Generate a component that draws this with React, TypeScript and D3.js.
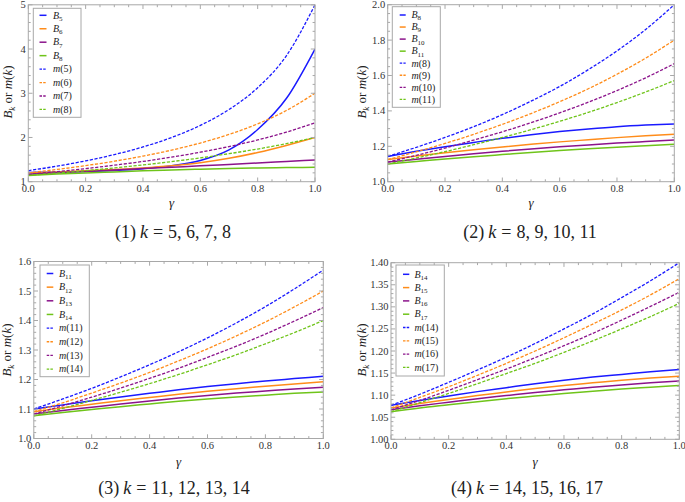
import React from "react";
import * as d3 from "d3";

// ---------- DATA ----------
const gammaValues = [0, 0.1, 0.2, 0.3, 0.4, 0.5, 0.6, 0.7, 0.8, 0.9, 1.0];

// B_k curves (solid)
const B5 = [1.21, 1.215, 1.23, 1.255, 1.295, 1.36, 1.48, 1.72, 2.18, 2.88, 4.0];
const B6 = [1.2, 1.22, 1.245, 1.275, 1.31, 1.36, 1.43, 1.53, 1.66, 1.82, 2.0];
const B7 = [1.167, 1.2, 1.232, 1.264, 1.296, 1.327, 1.358, 1.391, 1.423, 1.457, 1.49];
const B8 = [1.143, 1.172, 1.198, 1.222, 1.245, 1.265, 1.283, 1.298, 1.311, 1.32, 1.326];
const B9 = [1.125, 1.145, 1.163, 1.18, 1.196, 1.211, 1.225, 1.237, 1.249, 1.259, 1.268];
const B10 = [1.111, 1.127, 1.143, 1.158, 1.172, 1.185, 1.197, 1.208, 1.218, 1.227, 1.236];
const B11 = [1.1, 1.114, 1.128, 1.141, 1.153, 1.165, 1.176, 1.186, 1.195, 1.203, 1.211];
const B12 = [1.091, 1.104, 1.116, 1.128, 1.139, 1.15, 1.16, 1.169, 1.177, 1.185, 1.192];
const B13 = [1.083, 1.095, 1.106, 1.117, 1.127, 1.137, 1.146, 1.154, 1.161, 1.168, 1.174];
const B14 = [1.077, 1.088, 1.098, 1.108, 1.117, 1.126, 1.134, 1.141, 1.147, 1.153, 1.158];
const B15 = [1.071, 1.081, 1.09, 1.099, 1.107, 1.115, 1.122, 1.128, 1.134, 1.139, 1.143];
const B16 = [1.067, 1.076, 1.084, 1.092, 1.099, 1.106, 1.112, 1.118, 1.123, 1.128, 1.132];
const B17 = [1.0625, 1.071, 1.078, 1.085, 1.092, 1.098, 1.104, 1.109, 1.114, 1.118, 1.122];

// m(k) curves (dashed)
const M5 = [1.25, 1.351, 1.471, 1.613, 1.786, 2.0, 2.273, 2.632, 3.125, 3.846, 5.0];
const M6 = [1.2, 1.277, 1.364, 1.463, 1.579, 1.714, 1.875, 2.069, 2.308, 2.609, 3.0];
const M7 = [1.167, 1.228, 1.296, 1.373, 1.458, 1.556, 1.667, 1.795, 1.944, 2.121, 2.333];
const M8 = [1.143, 1.194, 1.25, 1.311, 1.379, 1.455, 1.538, 1.633, 1.739, 1.86, 2.0];
const M9 = [1.125, 1.169, 1.216, 1.268, 1.324, 1.385, 1.452, 1.525, 1.607, 1.698, 1.8];
const M10 = [1.111, 1.149, 1.19, 1.235, 1.282, 1.333, 1.389, 1.449, 1.515, 1.587, 1.667];
const M11 = [1.1, 1.134, 1.17, 1.209, 1.25, 1.294, 1.341, 1.392, 1.447, 1.507, 1.571];
const M12 = [1.091, 1.121, 1.154, 1.188, 1.224, 1.263, 1.304, 1.348, 1.395, 1.446, 1.5];
const M13 = [1.083, 1.111, 1.14, 1.171, 1.204, 1.238, 1.275, 1.313, 1.354, 1.398, 1.444];
const M14 = [1.077, 1.102, 1.129, 1.157, 1.186, 1.217, 1.25, 1.284, 1.321, 1.359, 1.4];
const M15 = [1.071, 1.095, 1.119, 1.145, 1.172, 1.2, 1.23, 1.261, 1.293, 1.327, 1.364];
const M16 = [1.067, 1.088, 1.111, 1.135, 1.159, 1.185, 1.212, 1.24, 1.27, 1.301, 1.333];
const M17 = [1.0625, 1.083, 1.104, 1.126, 1.149, 1.172, 1.197, 1.223, 1.25, 1.278, 1.308];

const panelKs = [
  [5, 6, 7, 8],
  [8, 9, 10, 11],
  [11, 12, 13, 14],
  [14, 15, 16, 17],
];

const xTicks = [0, 0.2, 0.4, 0.6, 0.8, 1.0];
const xTickLabels = ["0.0", "0.2", "0.4", "0.6", "0.8", "1.0"];

const yTicks1 = [1, 2, 3, 4, 5];
const yTickLabels1 = ["1", "2", "3", "4", "5"];
const yTicks2 = [1.0, 1.2, 1.4, 1.6, 1.8, 2.0];
const yTickLabels2 = ["1.0", "1.2", "1.4", "1.6", "1.8", "2.0"];
const yTicks3 = [1.0, 1.1, 1.2, 1.3, 1.4, 1.5, 1.6];
const yTickLabels3 = ["1.0", "1.1", "1.2", "1.3", "1.4", "1.5", "1.6"];
const yTicks4 = [1.0, 1.05, 1.1, 1.15, 1.2, 1.25, 1.3, 1.35, 1.4];
const yTickLabels4 = ["1.00", "1.05", "1.10", "1.15", "1.20", "1.25", "1.30", "1.35", "1.40"];

const captionNumbers = ["1", "2", "3", "4"];

// ---------- LOOKUPS / STYLE ----------
const B: Record<number, number[]> = {
  5: B5, 6: B6, 7: B7, 8: B8, 9: B9, 10: B10, 11: B11, 12: B12, 13: B13, 14: B14, 15: B15, 16: B16, 17: B17,
};
const M: Record<number, number[]> = {
  5: M5, 6: M6, 7: M7, 8: M8, 9: M9, 10: M10, 11: M11, 12: M12, 13: M13, 14: M14, 15: M15, 16: M16, 17: M17,
};

const COLORS = ["#1a1aff", "#ff8c1a", "#8b138b", "#6fc41a"];
const FRAME = "#a8a8a8";
const SERIF = "'Liberation Serif', 'Times New Roman', serif";

type Layout = {
  x0: number; x1: number; yTop: number; yBot: number;
  yTicks: number[]; yLabels: string[]; yMinor: number;
  legend: { x: number; y: number; w: number; h: number; y0: number; dy: number; lx0: number; lx1: number; tx: number };
  ylab: { x: number; y: number };
  gam: { x: number; y: number };
  cap: { x: number; y: number };
  xLabY: number;
};

const layouts: Layout[] = [
  {
    x0: 28.3, x1: 315, yTop: 4.8, yBot: 181.7,
    yTicks: yTicks1, yLabels: yTickLabels1, yMinor: 0.2,
    legend: { x: 33.3, y: 8.3, w: 47.7, h: 109, y0: 15.3, dy: 13.45, lx0: 39.5, lx1: 46.5, tx: 53 },
    ylab: { x: 8, y: 92 }, gam: { x: 171.6, y: 207 }, cap: { x: 173, y: 238 }, xLabY: 192,
  },
  {
    x0: 387.7, x1: 674.3, yTop: 4.7, yBot: 181.7,
    yTicks: yTicks2, yLabels: yTickLabels2, yMinor: 0.05,
    legend: { x: 392.3, y: 6.7, w: 48, h: 100.6, y0: 15, dy: 12.05, lx0: 399.7, lx1: 405.7, tx: 411.5 },
    ylab: { x: 362, y: 92 }, gam: { x: 531, y: 207 }, cap: { x: 530, y: 238 }, xLabY: 192,
  },
  {
    x0: 33.8, x1: 323.3, yTop: 261.5, yBot: 438.5,
    yTicks: yTicks3, yLabels: yTickLabels3, yMinor: 0.02,
    legend: { x: 40, y: 265, w: 49.3, h: 111.7, y0: 273.5, dy: 13.65, lx0: 46.7, lx1: 53.3, tx: 59 },
    ylab: { x: 7, y: 350 }, gam: { x: 178.6, y: 466 }, cap: { x: 174, y: 494 }, xLabY: 449,
  },
  {
    x0: 391, x1: 679.3, yTop: 262.7, yBot: 439.3,
    yTicks: yTicks4, yLabels: yTickLabels4, yMinor: 0.01,
    legend: { x: 396, y: 265, w: 48.3, h: 111, y0: 274.3, dy: 13.3, lx0: 403, lx1: 409.3, tx: 414.5 },
    ylab: { x: 362, y: 350 }, gam: { x: 535, y: 466 }, cap: { x: 527, y: 494 }, xLabY: 449,
  },
];

function legendLabel(kind: "B" | "m", k: number, x: number, y: number, key: string) {
  if (kind === "B") {
    return (
      <text key={key} x={x} y={y + 3.2} fontFamily={SERIF} fontSize={10} fill="#222">
        <tspan fontStyle="italic">B</tspan>
        <tspan fontSize={7} dy={2.2}>{k}</tspan>
      </text>
    );
  }
  return (
    <text key={key} x={x} y={y + 3.3} fontFamily={SERIF} fontSize={10} fill="#222">
      <tspan fontStyle="italic">m</tspan>
      <tspan>({k})</tspan>
    </text>
  );
}

function Panel({ idx }: { idx: number }) {
  const L = layouts[idx];
  const ks = panelKs[idx];
  const yMin = L.yTicks[0];
  const yMax = L.yTicks[L.yTicks.length - 1];
  const x = d3.scaleLinear().domain([0, 1]).range([L.x0, L.x1]);
  const y = d3.scaleLinear().domain([yMin, yMax]).range([L.yBot, L.yTop]);
  const line = d3
    .line<number>()
    .x((_, i) => x(gammaValues[i]))
    .y((d) => y(d))
    .curve(d3.curveMonotoneX);

  const xMinor = d3.range(0, 1.0001, 0.05).filter((v) => !xTicks.some((t) => Math.abs(t - v) < 1e-6));
  const nMinor = Math.round((yMax - yMin) / L.yMinor);
  const yMinorVals = d3.range(0, nMinor + 1).map((i) => yMin + i * L.yMinor)
    .filter((v) => !L.yTicks.some((t) => Math.abs(t - v) < 1e-6));

  const clipId = `clip${idx}`;
  const major = 4.2;
  const minor = 2.4;

  const lg = L.legend;
  return (
    <g>
      <defs>
        <clipPath id={clipId}>
          <rect x={L.x0} y={L.yTop - 1} width={L.x1 - L.x0} height={L.yBot - L.yTop + 1} />
        </clipPath>
      </defs>
      {/* curves */}
      <g clipPath={`url(#${clipId})`} fill="none">
        {ks.map((k, i) => (
          <path key={`b${k}`} d={line(B[k]) || ""} stroke={COLORS[i]} strokeWidth={1.5} />
        ))}
        {ks.map((k, i) => (
          <path key={`m${k}`} d={line(M[k]) || ""} stroke={COLORS[i]} strokeWidth={1.3} strokeDasharray="3.2,1.6" />
        ))}
      </g>
      {/* frame */}
      <rect x={L.x0} y={L.yTop} width={L.x1 - L.x0} height={L.yBot - L.yTop} fill="none" stroke={FRAME} strokeWidth={1} />
      {/* x ticks */}
      {xTicks.map((t) => (
        <g key={`xt${t}`} stroke={FRAME}>
          <line x1={x(t)} x2={x(t)} y1={L.yBot} y2={L.yBot - major} />
          <line x1={x(t)} x2={x(t)} y1={L.yTop} y2={L.yTop + major} />
        </g>
      ))}
      {xMinor.map((t) => (
        <g key={`xm${t}`} stroke={FRAME}>
          <line x1={x(t)} x2={x(t)} y1={L.yBot} y2={L.yBot - minor} />
          <line x1={x(t)} x2={x(t)} y1={L.yTop} y2={L.yTop + minor} />
        </g>
      ))}
      {L.yTicks.map((t) => (
        <g key={`yt${t}`} stroke={FRAME}>
          <line x1={L.x0} x2={L.x0 + major} y1={y(t)} y2={y(t)} />
          <line x1={L.x1} x2={L.x1 - major} y1={y(t)} y2={y(t)} />
        </g>
      ))}
      {yMinorVals.map((t) => (
        <g key={`ym${t}`} stroke={FRAME}>
          <line x1={L.x0} x2={L.x0 + minor} y1={y(t)} y2={y(t)} />
          <line x1={L.x1} x2={L.x1 - minor} y1={y(t)} y2={y(t)} />
        </g>
      ))}
      {/* tick labels */}
      {xTicks.map((t, i) => (
        <text key={`xl${t}`} x={x(t)} y={L.xLabY} textAnchor="middle" fontFamily={SERIF} fontSize={10.5} fill="#333">
          {xTickLabels[i]}
        </text>
      ))}
      {L.yTicks.map((t, i) => (
        <text key={`yl${t}`} x={L.x0 - 2.5} y={y(t) + 3.5} textAnchor="end" fontFamily={SERIF} fontSize={10.5} fill="#333">
          {L.yLabels[i]}
        </text>
      ))}
      {/* axis labels */}
      <text
        x={0}
        y={0}
        transform={`translate(${L.ylab.x + 4},${L.ylab.y}) rotate(-90)`}
        textAnchor="middle"
        fontFamily={SERIF}
        fontSize={13}
        fill="#222"
      >
        <tspan fontStyle="italic">B</tspan>
        <tspan fontStyle="italic" fontSize={9} dy={2.5}>k</tspan>
        <tspan dy={-2.5}> or </tspan>
        <tspan fontStyle="italic">m</tspan>
        <tspan>(</tspan>
        <tspan fontStyle="italic">k</tspan>
        <tspan>)</tspan>
      </text>
      <text x={L.gam.x} y={L.gam.y} textAnchor="middle" fontFamily={SERIF} fontStyle="italic" fontSize={13} fill="#222">
        γ
      </text>
      {/* caption */}
      <text x={L.cap.x} y={L.cap.y} textAnchor="middle" fontFamily={SERIF} fontSize={18} fill="#222">
        <tspan>({captionNumbers[idx]})</tspan>
        <tspan fontStyle="italic" dx={4}>k</tspan>
        <tspan dx={5}>=</tspan>
        <tspan dx={5}>{ks.join(", ")}</tspan>
      </text>
      {/* legend */}
      <rect x={lg.x} y={lg.y} width={lg.w} height={lg.h} fill="white" stroke={FRAME} strokeWidth={1} />
      {ks.map((k, i) => {
        const yy = lg.y0 + i * lg.dy;
        return (
          <g key={`lb${k}`}>
            <line x1={lg.lx0} x2={lg.lx1} y1={yy} y2={yy} stroke={COLORS[i]} strokeWidth={1.5} />
            {legendLabel("B", k, lg.tx, yy, `lbt${k}`)}
          </g>
        );
      })}
      {ks.map((k, i) => {
        const yy = lg.y0 + (i + 4) * lg.dy;
        return (
          <g key={`lm${k}`}>
            <line x1={lg.lx0} x2={lg.lx1} y1={yy} y2={yy} stroke={COLORS[i]} strokeWidth={1.3} strokeDasharray="2.5,1.2" />
            {legendLabel("m", k, lg.tx, yy, `lmt${k}`)}
          </g>
        );
      })}
    </g>
  );
}

export default function App() {
  return (
    <svg width={685} height={502} viewBox="0 0 685 502" style={{ display: "block", position: "absolute", left: 0, top: 0, background: "white" }}>
      <rect x={0} y={0} width={685} height={502} fill="white" />
      {[0, 1, 2, 3].map((i) => (
        <Panel key={i} idx={i} />
      ))}
    </svg>
  );
}
